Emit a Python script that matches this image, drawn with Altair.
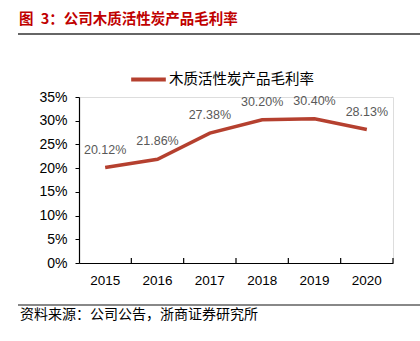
import altair as alt
import pandas as pd

years = ["2015", "2016", "2017", "2018", "2019", "2020"]
margins = [20.12, 21.86, 27.38, 30.20, 30.40, 28.13]
series_name = "木质活性炭产品毛利率"
y_ticks = [0, 5, 10, 15, 20, 25, 30, 35]
title_text = "图\u20023：公司木质活性炭产品毛利率"
source_text = "资料来源：公司公告，浙商证券研究所"

df = pd.DataFrame({"year": years, "margin": margins, "series": [series_name] * len(years)})
df["label"] = [f"{v:.2f}%" for v in margins]

LINE_COLOR = "#B5402F"
W, H = 314, 166

x_axis = alt.Axis(title=None, tickSize=0, labelPadding=10, labelFontSize=13.5,
                  labelColor="#000000", labelFont="Liberation Sans", labelAngle=0,
                  domainColor="#000000", domainWidth=1.2)
y_axis = alt.Axis(title=None, values=y_ticks, tickCount=8, labelExpr="datum.value + '%'",
                  labelOverlap=False, labelBound=False,
                  tickSize=4, tickColor="#000000", labelPadding=8, labelFontSize=14,
                  labelColor="#000000", labelFont="Liberation Sans",
                  domainColor="#000000", domainWidth=1.2, grid=False)
x_scale = alt.Scale(paddingInner=0, paddingOuter=0)
y_scale = alt.Scale(domain=[0, 35], nice=False)

base = alt.Chart(df)

line = base.mark_line(strokeWidth=3.5, color=LINE_COLOR).encode(
    x=alt.X("year:N", sort=years, scale=x_scale, axis=x_axis),
    y=alt.Y("margin:Q", scale=y_scale, axis=y_axis),
    color=alt.Color("series:N", scale=alt.Scale(range=[LINE_COLOR]),
                    legend=alt.Legend(title=None, orient="none", legendX=50, legendY=-37,
                                      symbolType="stroke", symbolSize=1200, symbolStrokeWidth=4,
                                      labelFontSize=14.5, labelFont="Noto Sans CJK SC",
                                      labelColor="#000000", labelOffset=1)),
)

labels = base.mark_text(dy=-18, fontSize=12.5, color="#595959", font="Liberation Sans").encode(
    x=alt.X("year:N", sort=years, scale=x_scale, axis=x_axis),
    y=alt.Y("margin:Q", scale=y_scale, axis=y_axis),
    text="label:N")

xticks = base.mark_rule(color="#000000", strokeWidth=1.2).encode(
    x=alt.X("year:N", sort=years, bandPosition=1, scale=x_scale, axis=x_axis),
    y=alt.value(H), y2=alt.value(H - 5))

title = alt.Chart(pd.DataFrame({"t": [title_text]})).mark_text(
    align="left", baseline="middle", fontSize=14.5, fontWeight="bold", color="#C00000",
    font="Noto Sans CJK SC").encode(x=alt.value(-60), y=alt.value(-77), text="t:N")

rule_top = alt.Chart(pd.DataFrame({"a": [0]})).mark_rule(color="#333333", strokeWidth=1.5).encode(
    x=alt.value(-61), x2=alt.value(341), y=alt.value(-63))
rule_bottom = alt.Chart(pd.DataFrame({"a": [0]})).mark_rule(color="#888888", strokeWidth=2).encode(
    x=alt.value(-61), x2=alt.value(341), y=alt.value(208))

source = alt.Chart(pd.DataFrame({"t": [source_text]})).mark_text(
    align="left", baseline="middle", fontSize=14, color="#000000",
    font="Noto Sans CJK SC").encode(x=alt.value(-59), y=alt.value(218), text="t:N")

chart = alt.layer(line, labels, xticks, title, rule_top, rule_bottom, source).properties(
    width=W, height=H,
    autosize=alt.AutoSizeParams(type="none"),
    padding={"left": 79, "top": 97, "right": 27, "bottom": 78},
).configure_view(stroke=None).configure(background="#FFFFFF")

chart.save("out.html", embed_options={"renderer": "svg", "actions": False})
